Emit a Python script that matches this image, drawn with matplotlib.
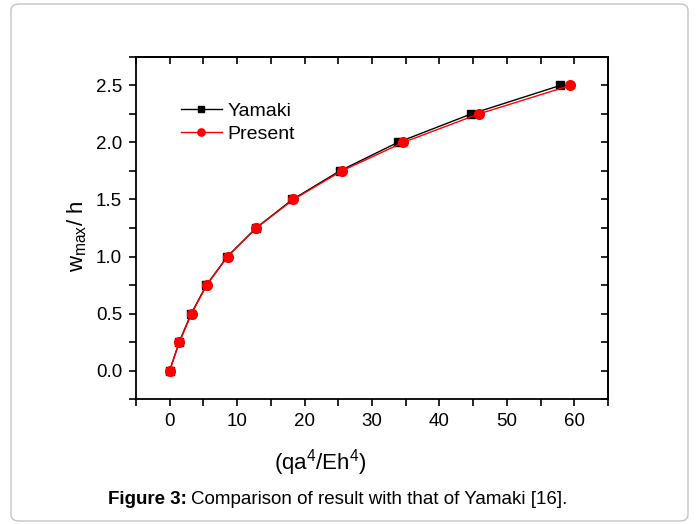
import matplotlib
matplotlib.use('Agg')
import matplotlib.pyplot as plt
from matplotlib.ticker import MultipleLocator, FormatStrFormatter
from matplotlib.patches import FancyBboxPatch

plt.rcParams['font.family'] = ['Liberation Sans', 'DejaVu Sans']
plt.rcParams['mathtext.default'] = 'regular'

# deflection data: load parameter vs w_max/h
w_ratio = [0.0, 0.25, 0.5, 0.75, 1.0, 1.25, 1.5, 1.75, 2.0, 2.25, 2.5]
load_yamaki = [0.0, 1.4, 3.2, 5.45, 8.55, 12.8, 18.2, 25.2, 33.8, 44.7, 57.9]
load_present = [0.0, 1.45, 3.25, 5.5, 8.6, 12.85, 18.35, 25.5, 34.6, 45.8, 59.4]

fig = plt.figure(figsize=(6.96, 5.24), dpi=100)

# rounded frame around figure + caption
frame = FancyBboxPatch((11 / 696, 3 / 524), 677 / 696, 517 / 524,
                       boxstyle='round,pad=0,rounding_size=0.012',
                       transform=fig.transFigure, fill=False,
                       edgecolor='#c4c4c4', linewidth=1.0)
fig.patches.append(frame)

ax = fig.add_axes([136 / 696, 1 - 399 / 524, 472 / 696, 342 / 524])

ax.plot(load_yamaki, w_ratio, '-', color='black', marker='s', markersize=6,
        linewidth=1.0, label='Yamaki')
ax.plot(load_present, w_ratio, '-', color='red', marker='o', markersize=7,
        linewidth=1.0, label='Present')

ax.set_xlim(-5, 65)
ax.set_ylim(-0.25, 2.75)
ax.xaxis.set_major_locator(MultipleLocator(10))
ax.xaxis.set_minor_locator(MultipleLocator(5))
ax.yaxis.set_major_locator(MultipleLocator(0.5))
ax.yaxis.set_minor_locator(MultipleLocator(0.25))
ax.yaxis.set_major_formatter(FormatStrFormatter('%.1f'))

for s in ax.spines.values():
    s.set_linewidth(1.3)

ax.tick_params(which='both', direction='out', top=False, right=False,
               width=1.2, length=5, labelsize=13.5)
ax.tick_params(which='major', pad=5)

# inward ticks on top and right
sx = ax.secondary_xaxis('top')
sx.xaxis.set_major_locator(MultipleLocator(5))
sx.tick_params(direction='in', length=5, width=1.2, labeltop=False)
sx.spines['top'].set_linewidth(1.3)
sy = ax.secondary_yaxis('right')
sy.yaxis.set_major_locator(MultipleLocator(0.25))
sy.tick_params(direction='in', length=5, width=1.2, labelright=False)
sy.spines['right'].set_linewidth(1.3)

ax.set_xlabel('(qa$^4$/Eh$^4$)', fontsize=16)
ax.xaxis.set_label_coords(0.39, -0.14)
ax.set_ylabel('w$_{max}$/ h', fontsize=16)
ax.yaxis.set_label_coords(-0.1, 0.477)

ax.legend(loc='upper left', bbox_to_anchor=(0.095, 0.868), frameon=False,
          fontsize=14, markerscale=0.75, handlelength=2.1, handletextpad=0.3,
          labelspacing=0.3, borderaxespad=0, borderpad=0)

# caption under the chart
fig.canvas.draw()
r = fig.canvas.get_renderer()
t1 = fig.text(108 / 696, 1 - 500 / 524, 'Figure 3:', fontsize=13.5,
              fontweight='bold', va='center', ha='left')
w1 = t1.get_window_extent(r).width
fig.text(108 / 696 + (w1 + 4) / 696, 1 - 500 / 524,
         'Comparison of result with that of Yamaki [16].', fontsize=13.5,
         va='center', ha='left')

fig.savefig('out.png', dpi=100)
